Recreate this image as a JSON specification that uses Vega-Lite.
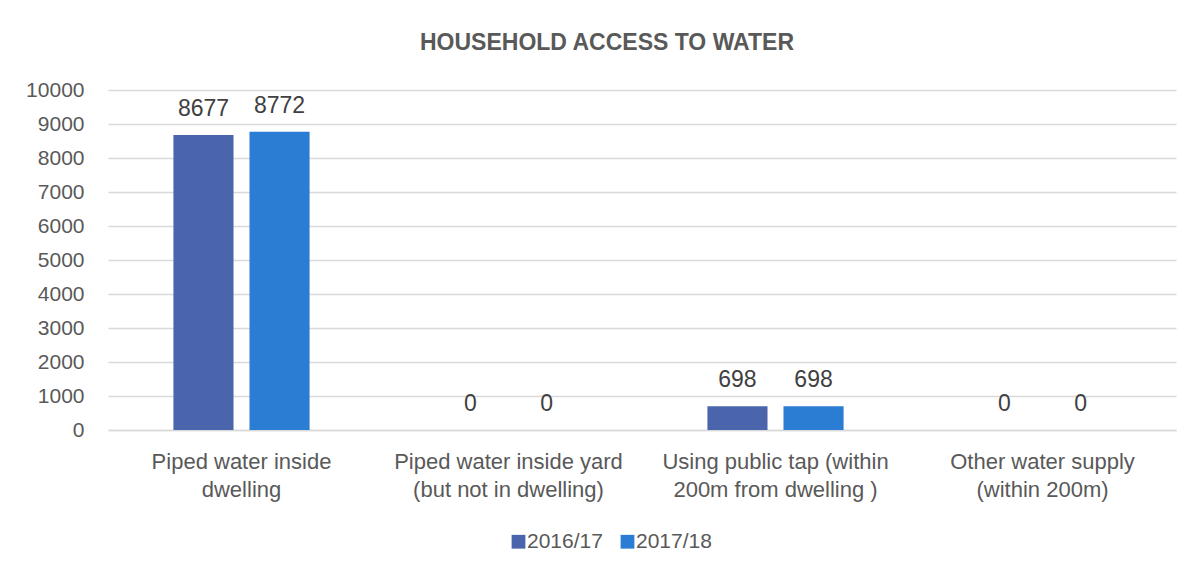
{
  "$schema": "https://vega.github.io/schema/vega-lite/v6.json",
  "autosize": {"type": "none"},
  "width": 1068,
  "height": 340,
  "padding": {"left": 108, "top": 90, "right": 24, "bottom": 151},
  "background": "white",
  "title": {
    "text": "HOUSEHOLD ACCESS TO WATER",
    "font": "Liberation Sans",
    "fontSize": 23,
    "fontWeight": "bold",
    "color": "#595959",
    "anchor": "middle",
    "dx": -35,
    "offset": 24
  },
  "data": {
    "values": [
      {"category": "Piped water inside|dwelling", "year": "2016/17", "value": 8677},
      {"category": "Piped water inside|dwelling", "year": "2017/18", "value": 8772},
      {"category": "Piped water inside yard|(but not in dwelling)", "year": "2016/17", "value": 0},
      {"category": "Piped water inside yard|(but not in dwelling)", "year": "2017/18", "value": 0},
      {"category": "Using public tap (within|200m from dwelling )", "year": "2016/17", "value": 698},
      {"category": "Using public tap (within|200m from dwelling )", "year": "2017/18", "value": 698},
      {"category": "Other water supply|(within 200m)", "year": "2016/17", "value": 0},
      {"category": "Other water supply|(within 200m)", "year": "2017/18", "value": 0}
    ]
  },
  "encoding": {
    "x": {
      "field": "category",
      "type": "nominal",
      "sort": null,
      "scale": {"paddingInner": 0, "paddingOuter": 0},
      "axis": {
        "title": null,
        "labelAngle": 0,
        "labelExpr": "split(datum.label, '|')",
        "labelFont": "Liberation Sans",
        "labelFontSize": 22,
        "labelColor": "#595959",
        "labelLineHeight": 28,
        "labelPadding": 21,
        "labelLimit": 0,
        "ticks": false,
        "domainColor": "#d9d9d9",
        "domainWidth": 1.5
      }
    },
    "xOffset": {
      "field": "year",
      "type": "nominal",
      "scale": {"paddingInner": 0.21, "paddingOuter": 0.86}
    },
    "y": {
      "field": "value",
      "type": "quantitative",
      "scale": {"domain": [0, 10000], "nice": false},
      "axis": {
        "title": null,
        "values": [0, 1000, 2000, 3000, 4000, 5000, 6000, 7000, 8000, 9000, 10000],
        "format": "d",
        "domain": false,
        "ticks": false,
        "labelFont": "Liberation Sans",
        "labelFontSize": 21,
        "labelColor": "#595959",
        "labelPadding": 24,
        "gridColor": "#d9d9d9",
        "gridWidth": 1.5
      }
    }
  },
  "layer": [
    {
      "mark": {"type": "bar"},
      "encoding": {
        "color": {
          "field": "year",
          "type": "nominal",
          "scale": {"domain": ["2016/17", "2017/18"], "range": ["#4A65AB", "#2B7CD3"]},
          "legend": {
            "title": null,
            "orient": "none",
            "direction": "horizontal",
            "legendX": 400,
            "legendY": 441,
            "symbolType": "square",
            "symbolSize": 190,
            "symbolStrokeWidth": 0,
            "labelFont": "Liberation Sans",
            "labelFontSize": 21,
            "labelColor": "#595959",
            "labelOffset": -2,
            "columnPadding": 14
          }
        }
      }
    },
    {
      "mark": {
        "type": "text",
        "baseline": "alphabetic",
        "dy": -19,
        "font": "Liberation Sans",
        "fontSize": 23,
        "color": "#404040"
      },
      "encoding": {
        "text": {"field": "value", "type": "quantitative", "format": "d"}
      }
    }
  ],
  "config": {
    "view": {"stroke": null}
  }
}
